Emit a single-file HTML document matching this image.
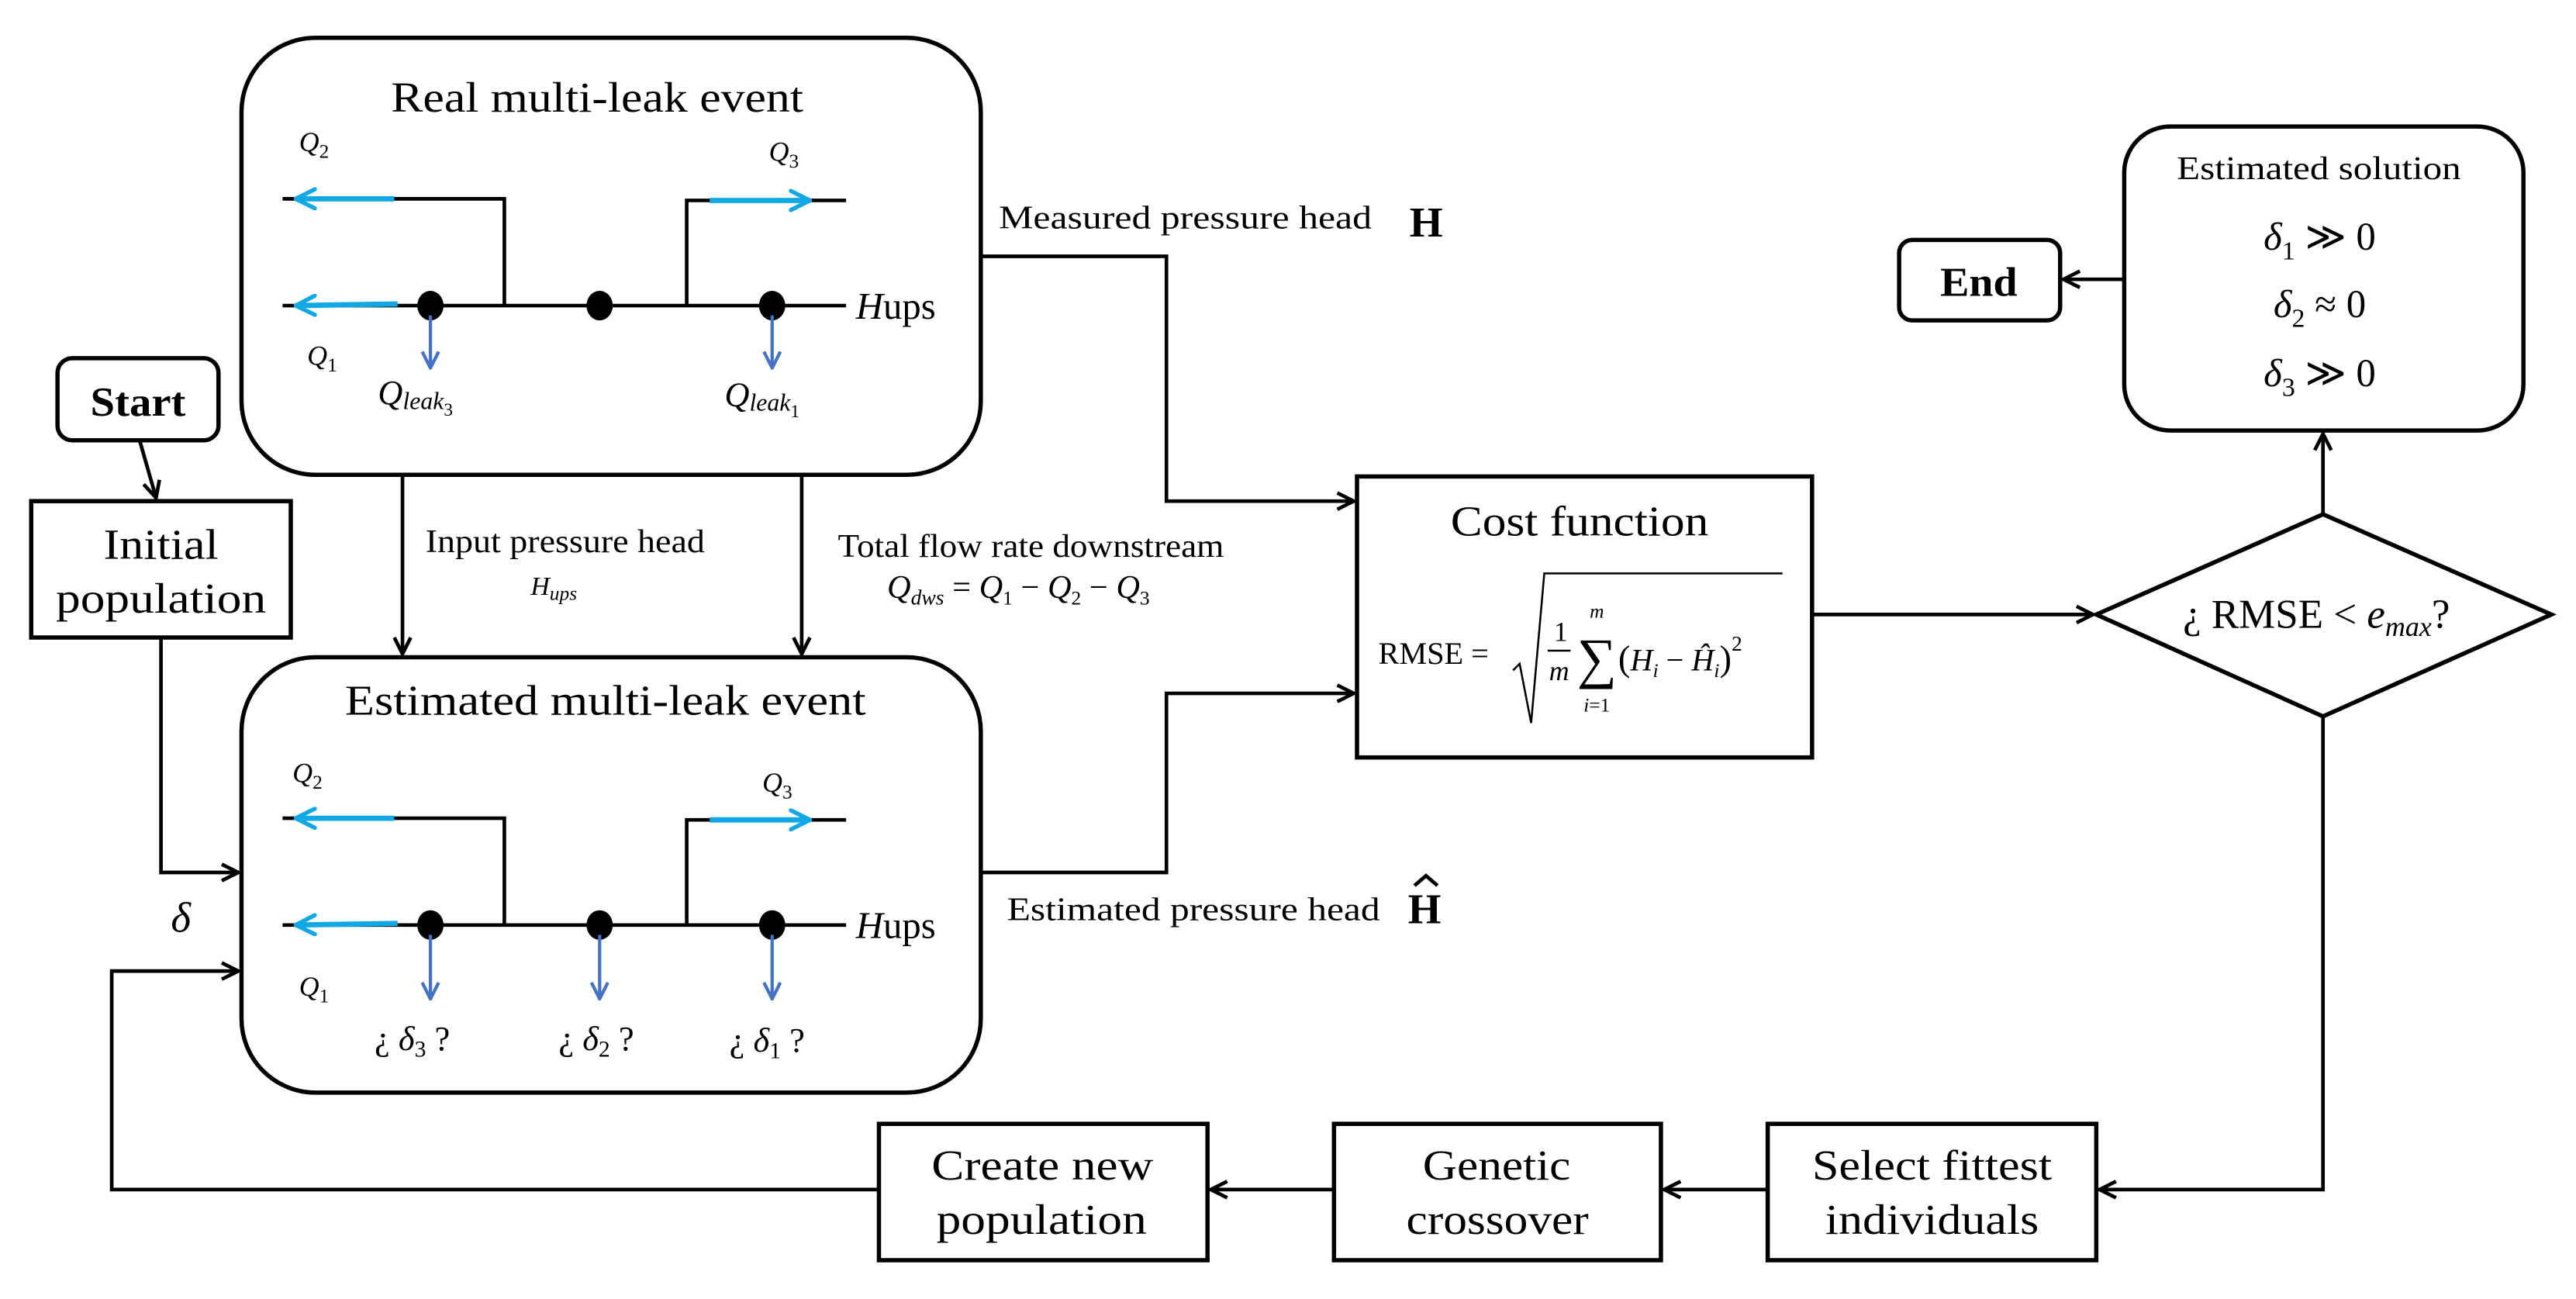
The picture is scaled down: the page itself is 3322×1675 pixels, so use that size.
<!DOCTYPE html>
<html><head><meta charset="utf-8"><style>
html,body{margin:0;padding:0;background:#fff;}
svg{display:block;}
text{font-family:"Liberation Serif","DejaVu Serif",serif;fill:#000;}
.it{font-style:italic;}
</style></head><body>
<svg width="3322" height="1675" viewBox="0 0 1568 790.6" xmlns="http://www.w3.org/2000/svg">
<defs>
<marker id="a" viewBox="0 0 12 12" refX="11" refY="6" markerWidth="12" markerHeight="12" markerUnits="userSpaceOnUse" orient="auto">
<path d="M1,1 L11,6 L1,11" fill="none" stroke="#000" stroke-width="2.2"/></marker>
<marker id="c" viewBox="0 0 12 12" refX="11" refY="6" markerWidth="14" markerHeight="14" markerUnits="userSpaceOnUse" orient="auto">
<path d="M1,1 L11,6 L1,11" fill="none" stroke="#12a8e6" stroke-width="2.2" stroke-linecap="round"/></marker>
<marker id="b" viewBox="0 0 12 12" refX="11" refY="6" markerWidth="12" markerHeight="12" markerUnits="userSpaceOnUse" orient="auto">
<path d="M1,1 L11,6 L1,11" fill="none" stroke="#4472c4" stroke-width="2"/></marker>
</defs>
<g fill="none" stroke="#000" stroke-width="2.6">
<rect x="147" y="23" width="450" height="266" rx="45"/>
<rect x="147" y="400" width="450" height="265" rx="45"/>
<rect x="35" y="218" width="98" height="50" rx="9"/>
<rect x="19" y="305" width="158" height="83"/>
<rect x="826" y="290" width="277" height="171"/>
<polygon points="1276,374 1414,313 1553,374 1414,436"/>
<rect x="1293" y="77" width="243" height="185" rx="28"/>
<rect x="1156" y="146" width="98" height="49" rx="8"/>
<rect x="535" y="684" width="200" height="83"/>
<rect x="812" y="684" width="199" height="83"/>
<rect x="1076" y="684" width="200" height="83"/>
</g>
<g fill="none" stroke="#000" stroke-width="2.2">
<polyline points="597,156 710,156 710,305 824,305" marker-end="url(#a)"/>
<polyline points="597,531 710,531 710,422 824,422" marker-end="url(#a)"/>
<line x1="1103" y1="374" x2="1274" y2="374" marker-end="url(#a)"/>
<line x1="1414" y1="313" x2="1414" y2="264" marker-end="url(#a)"/>
<line x1="1293" y1="170" x2="1256" y2="170" marker-end="url(#a)"/>
<polyline points="1414,436 1414,724 1278,724" marker-end="url(#a)"/>
<line x1="1076" y1="724" x2="1013" y2="724" marker-end="url(#a)"/>
<line x1="812" y1="724" x2="737" y2="724" marker-end="url(#a)"/>
<polyline points="535,724 68,724 68,591 145,591" marker-end="url(#a)"/>
<line x1="85" y1="268" x2="95" y2="303" marker-end="url(#a)"/>
<polyline points="98,388 98,531 145,531" marker-end="url(#a)"/>
<line x1="245" y1="289" x2="245" y2="398" marker-end="url(#a)"/>
<line x1="488" y1="289" x2="488" y2="398" marker-end="url(#a)"/>
</g>
<g fill="none" stroke="#000" stroke-width="2.2">
<polyline points="172,121 307,121 307,186"/><line x1="172" y1="186" x2="515" y2="186"/>
<polyline points="418,186 418,122 515,122"/>
<polyline points="172,498 307,498 307,563"/><line x1="172" y1="563" x2="515" y2="563"/>
<polyline points="418,563 418,499 515,499"/>
</g>
<g fill="#000"><ellipse cx="262" cy="186" rx="8" ry="9"/><ellipse cx="365" cy="186" rx="8" ry="9"/><ellipse cx="470" cy="186" rx="8" ry="9"/>
<ellipse cx="262" cy="563" rx="8" ry="9"/><ellipse cx="365" cy="563" rx="8" ry="9"/><ellipse cx="470" cy="563" rx="8" ry="9"/></g>
<g stroke="#12a8e6" stroke-width="3.2" fill="none">
<line x1="240" y1="121" x2="180" y2="121" marker-end="url(#c)"/>
<line x1="242" y1="185" x2="180" y2="186" marker-end="url(#c)"/>
<line x1="432" y1="122" x2="493" y2="122" marker-end="url(#c)"/>
<line x1="240" y1="498" x2="180" y2="498" marker-end="url(#c)"/>
<line x1="242" y1="562" x2="180" y2="563" marker-end="url(#c)"/>
<line x1="432" y1="499" x2="493" y2="499" marker-end="url(#c)"/>
</g>
<g stroke="#4472c4" stroke-width="2" fill="none">
<line x1="262" y1="192" x2="262" y2="224" marker-end="url(#b)"/>
<line x1="470" y1="192" x2="470" y2="224" marker-end="url(#b)"/>
<line x1="262" y1="569" x2="262" y2="608" marker-end="url(#b)"/>
<line x1="365" y1="569" x2="365" y2="608" marker-end="url(#b)"/>
<line x1="470" y1="569" x2="470" y2="608" marker-end="url(#b)"/>
</g>
<g font-size="26">
<text x="238" y="68" textLength="251" lengthAdjust="spacingAndGlyphs">Real multi-leak event</text>
<text x="210" y="435" textLength="317" lengthAdjust="spacingAndGlyphs">Estimated multi-leak event</text>
<text x="63" y="340" textLength="70" lengthAdjust="spacingAndGlyphs">Initial</text>
<text x="34" y="373" textLength="128" lengthAdjust="spacingAndGlyphs">population</text>
<text x="883" y="326" textLength="157" lengthAdjust="spacingAndGlyphs">Cost function</text>
<text x="567" y="718" textLength="135" lengthAdjust="spacingAndGlyphs">Create new</text>
<text x="570" y="751" textLength="128" lengthAdjust="spacingAndGlyphs">population</text>
<text x="866" y="718" textLength="90" lengthAdjust="spacingAndGlyphs">Genetic</text>
<text x="856" y="751" textLength="111" lengthAdjust="spacingAndGlyphs">crossover</text>
<text x="1103" y="718" textLength="146" lengthAdjust="spacingAndGlyphs">Select fittest</text>
<text x="1111" y="751" textLength="130" lengthAdjust="spacingAndGlyphs">individuals</text>
</g>
<text x="1410" y="382" font-size="25" text-anchor="middle">¿ RMSE &lt; <tspan class="it">e</tspan><tspan class="it" font-size="17" dy="5">max</tspan><tspan dy="-5">?</tspan></text>
<text x="55" y="253" font-size="25" font-weight="bold" textLength="58" lengthAdjust="spacingAndGlyphs">Start</text>
<text x="1181" y="180" font-size="25" font-weight="bold" textLength="47" lengthAdjust="spacingAndGlyphs">End</text>
<g font-size="20">
<text x="1325" y="109" textLength="173" lengthAdjust="spacingAndGlyphs">Estimated solution</text>
<text x="608" y="139" textLength="227" lengthAdjust="spacingAndGlyphs">Measured pressure head</text>
<text x="613" y="560" textLength="227" lengthAdjust="spacingAndGlyphs">Estimated pressure head</text>
<text x="259" y="336" textLength="170" lengthAdjust="spacingAndGlyphs">Input pressure head</text>
<text x="510" y="339" textLength="235" lengthAdjust="spacingAndGlyphs">Total flow rate downstream</text>
</g>
<text x="858" y="144" font-size="26" font-weight="bold">H</text>
<text x="857" y="562" font-size="26" font-weight="bold">H</text>
<polyline points="861,539 868,533 875,539" fill="none" stroke="#000" stroke-width="2.2"/>
<g font-size="24" text-anchor="middle">
<text x="1412" y="152"><tspan class="it">δ</tspan><tspan font-size="16" dy="6">1</tspan><tspan dy="-6"> ≫ 0</tspan></text>
<text x="1412" y="193"><tspan class="it">δ</tspan><tspan font-size="16" dy="6">2</tspan><tspan dy="-6"> ≈ 0</tspan></text>
<text x="1412" y="235"><tspan class="it">δ</tspan><tspan font-size="16" dy="6">3</tspan><tspan dy="-6"> ≫ 0</tspan></text>
</g>
<g font-size="17">
<text x="182" y="92" class="it">Q<tspan font-size="12" dy="4" font-style="normal">2</tspan></text>
<text x="468" y="98" class="it">Q<tspan font-size="12" dy="4" font-style="normal">3</tspan></text>
<text x="187" y="222" class="it">Q<tspan font-size="12" dy="4" font-style="normal">1</tspan></text>
<text x="178" y="476" class="it">Q<tspan font-size="12" dy="4" font-style="normal">2</tspan></text>
<text x="464" y="482" class="it">Q<tspan font-size="12" dy="4" font-style="normal">3</tspan></text>
<text x="182" y="606" class="it">Q<tspan font-size="12" dy="4" font-style="normal">1</tspan></text>
</g>
<g font-size="21">
<text x="230" y="246" class="it">Q<tspan font-size="15" dy="3">leak</tspan><tspan font-size="11" dy="4" font-style="normal">3</tspan></text>
<text x="441" y="247" class="it">Q<tspan font-size="15" dy="3">leak</tspan><tspan font-size="11" dy="4" font-style="normal">1</tspan></text>
<text x="521" y="194" font-size="23"><tspan class="it">H</tspan>ups</text>
<text x="521" y="571" font-size="23"><tspan class="it">H</tspan>ups</text>
<text x="228" y="639">¿ <tspan class="it">δ</tspan><tspan font-size="14" dy="4">3</tspan><tspan dy="-4"> ?</tspan></text>
<text x="340" y="639">¿ <tspan class="it">δ</tspan><tspan font-size="14" dy="4">2</tspan><tspan dy="-4"> ?</tspan></text>
<text x="444" y="640">¿ <tspan class="it">δ</tspan><tspan font-size="14" dy="4">1</tspan><tspan dy="-4"> ?</tspan></text>
</g>
<text x="104" y="567" font-size="26" class="it">δ</text>
<text x="323" y="362" font-size="16" class="it">H<tspan font-size="12" dy="3">ups</tspan></text>
<text x="540" y="364" font-size="20"><tspan class="it">Q</tspan><tspan class="it" font-size="13" dy="4">dws</tspan><tspan dy="-4"> = </tspan><tspan class="it">Q</tspan><tspan font-size="12" dy="4">1</tspan><tspan dy="-4"> − </tspan><tspan class="it">Q</tspan><tspan font-size="12" dy="4">2</tspan><tspan dy="-4"> − </tspan><tspan class="it">Q</tspan><tspan font-size="12" dy="4">3</tspan></text>
<text x="839" y="404" font-size="19">RMSE =</text>
<polyline points="921,408 925,404 932,440 940,349 1085,349" fill="none" stroke="#000" stroke-width="1.2"/>
<text x="950" y="390" font-size="17" text-anchor="middle">1</text>
<line x1="942" y1="396" x2="956" y2="396" stroke="#000" stroke-width="1.2"/>
<text x="949" y="414" font-size="17" text-anchor="middle" class="it">m</text>
<text x="972" y="376" font-size="12" text-anchor="middle" class="it">m</text>
<text x="972" y="412" font-size="34" text-anchor="middle">∑</text>
<text x="972" y="433" font-size="12" text-anchor="middle"><tspan class="it">i</tspan>=1</text>
<text x="985" y="408" font-size="22">(<tspan class="it" font-size="19">H</tspan><tspan class="it" font-size="12" dy="4">i</tspan><tspan font-size="19" dy="-4"> − </tspan><tspan class="it" font-size="19">Ĥ</tspan><tspan class="it" font-size="12" dy="4">i</tspan><tspan dy="-4">)</tspan><tspan font-size="13" dy="-12">2</tspan></text>
</svg>
</body></html>
